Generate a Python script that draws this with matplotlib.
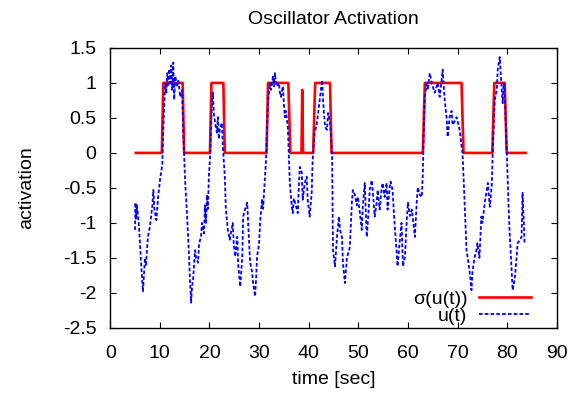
import numpy as np
import matplotlib.pyplot as plt
from matplotlib.ticker import FixedLocator, FuncFormatter

# gnuplot-like look
plt.rcParams['font.family'] = ['Liberation Sans', 'DejaVu Sans']
plt.rcParams['axes.unicode_minus'] = False

# u(t) (time in sec, activation)
u_time = [5.0, 5.1, 5.2, 5.4, 5.8, 6.2, 6.6, 7.0, 7.2, 7.6, 8.0, 8.5, 8.7, 8.9, 9.3, 9.7,
          10.1, 10.5, 10.7, 10.9, 11.1, 11.3, 11.5, 11.7, 11.9, 12.1, 12.3, 12.5, 12.7, 12.9,
          13.1, 13.5, 13.7, 14.1, 14.5, 14.7, 15.1, 15.5, 15.9, 16.1, 16.3, 16.5, 16.7, 17.1,
          17.3, 17.7, 17.9, 18.3, 18.5, 18.9, 19.1, 19.3, 19.5, 19.7, 19.9, 20.1, 20.3, 20.5,
          20.7, 20.9, 21.1, 21.5, 21.7, 21.9, 22.1, 22.5, 22.7, 23.1, 23.3, 23.7, 24.1, 24.3,
          24.7, 24.9, 25.2, 25.6, 25.8, 26.2, 26.6, 26.8, 27.2, 27.6, 27.8, 28.2, 28.6, 28.8,
          29.2, 29.4, 29.6, 30.0, 30.2, 30.6, 30.8, 31.2, 31.4, 31.6, 31.8, 32.2, 32.4, 32.8,
          33.0, 33.2, 33.4, 33.6, 34.0, 34.2, 34.4, 34.8, 35.0, 35.2, 35.4, 35.8, 36.2, 36.4,
          36.6, 36.8, 37.0, 37.2, 37.6, 37.8, 38.0, 38.2, 38.6, 38.8, 39.2, 39.6, 39.8, 40.2,
          40.6, 40.8, 41.2, 41.6, 41.8, 42.3, 42.7, 42.9, 43.3, 43.7, 43.9, 44.3, 44.7, 44.9,
          45.3, 45.7, 46.1, 46.3, 46.7, 46.9, 47.3, 47.7, 48.1, 48.3, 48.7, 48.9, 49.3, 49.7,
          49.9, 50.3, 50.7, 50.9, 51.3, 51.7, 52.1, 52.3, 52.7, 52.9, 53.3, 53.7, 53.9, 54.3,
          54.7, 54.9, 55.3, 55.7, 55.9, 56.3, 56.5, 56.9, 57.3, 57.7, 57.9, 58.3, 58.7, 59.0,
          59.4, 59.8, 60.0, 60.4, 60.8, 61.4, 61.8, 62.0, 62.4, 62.8, 63.0, 63.2, 63.4, 63.8,
          64.0, 64.4, 64.8, 65.0, 65.4, 66.0, 66.4, 66.8, 67.0, 67.4, 67.8, 68.0, 68.4, 68.8,
          69.0, 69.4, 69.8, 70.2, 70.4, 70.8, 71.0, 71.4, 71.8, 72.2, 72.6, 72.8, 73.0, 73.4,
          73.8, 74.0, 74.4, 74.8, 75.0, 75.5, 75.9, 76.1, 76.5, 76.9, 77.1, 77.5, 77.9, 78.1,
          78.5, 78.9, 79.1, 79.3, 79.5, 79.9, 80.3, 80.5, 80.9, 81.1, 81.5, 81.9, 82.1, 82.5,
          82.9, 83.1, 83.3, 83.5]
u_vals = [-1.10, -0.71, -0.95, -0.75, -1.05, -1.55, -1.98, -1.50, -1.60, -1.20, -1.05, -0.75, -0.53, -0.80, -0.96, -0.60,
          -0.35, -0.17, 0.33, 0.70, 1.00, 0.85, 1.14, 0.95, 1.20, 1.00, 1.25, 0.90, 1.29, 0.76,
          1.10, 0.95, 1.05, 0.80, 0.90, 0.33, -0.40, -0.91, -1.50, -1.86, -2.14, -1.90, -1.81, -1.39,
          -1.50, -1.57, -1.30, -1.20, -1.00, -1.15, -0.75, -1.00, -0.60, -0.80, -0.30, -0.10, 0.30, 0.71,
          0.86, 0.55, 0.45, 0.29, 0.51, 0.20, 0.35, 0.43, 0.09, -0.34, -0.80, -1.10, -1.24, -1.15,
          -1.00, -1.30, -1.48, -1.20, -1.60, -1.91, -1.50, -0.91, -0.80, -0.71, -1.00, -1.57, -1.70, -1.86,
          -2.05, -1.80, -1.48, -1.30, -1.00, -0.67, -0.80, -0.34, -0.10, 0.30, 0.71, 1.00, 0.90, 1.09,
          0.95, 1.14, 1.00, 0.95, 1.00, 0.86, 0.80, 0.95, 0.70, 0.51, 0.60, 0.37, -0.43, -0.60,
          -0.77, -0.86, -0.65, -0.70, -0.80, -0.86, -0.50, -0.20, -0.28, -0.67, -0.43, -0.34, -0.67, -0.91,
          -0.57, -0.10, 0.29, 0.40, 0.51, 0.80, 1.04, 0.75, 0.37, 0.33, 0.57, 0.45, 0.04, -1.39,
          -1.62, -1.20, -0.91, -1.10, -1.20, -1.57, -1.86, -1.50, -1.40, -1.34, -0.71, -0.53, -0.60, -0.75,
          -0.63, -0.85, -1.10, -0.77, -0.43, -1.20, -0.80, -0.53, -0.39, -0.53, -0.91, -0.71, -0.53, -0.81,
          -0.50, -0.43, -0.63, -0.43, -0.81, -0.50, -0.41, -0.53, -1.00, -1.39, -1.62, -1.30, -1.00, -1.62,
          -1.48, -0.91, -0.71, -0.90, -0.81, -1.20, -0.67, -0.49, -0.60, -0.63, -0.29, 0.30, 0.80, 1.00,
          0.90, 1.14, 1.00, 0.95, 0.86, 1.00, 0.80, 1.05, 1.19, 0.76, 0.50, 0.23, 0.51, 0.60,
          0.40, 0.45, 0.51, 0.40, 0.33, 0.10, 0.00, -0.67, -1.39, -1.57, -1.80, -1.96, -1.71, -1.50,
          -1.39, -1.29, -1.50, -0.91, -1.00, -0.70, -0.53, -0.43, -0.77, -0.45, 0.04, 0.76, 0.90, 1.19,
          1.37, 0.90, 0.71, 1.00, 0.90, 0.04, -0.80, -1.14, -1.70, -1.96, -1.81, -1.50, -1.29, -1.25,
          -1.20, -0.57, -0.90, -1.29]

# sigma(u(t))
sig_time = [5.15, 10.4, 10.7, 14.6, 14.9, 20.1, 20.4, 22.8, 23.1, 31.5, 31.8, 35.9, 36.3,
            38.55, 38.7, 38.85, 40.9, 41.3, 44.3, 44.6, 63.0, 63.4, 70.8, 71.2, 77.0, 77.4,
            79.5, 79.9, 83.7]
sig_vals = [0, 0, 1, 1, 0, 0, 1, 1, 0, 0, 1, 1, 0,
            0, 0.9, 0, 0, 1, 1, 0, 0, 1, 1, 0, 0, 1,
            1, 0, 0]

x_ticks = list(range(0, 100, 10))
y_ticks = [1.5, 1, 0.5, 0, -0.5, -1, -1.5, -2, -2.5]

fig = plt.figure(figsize=(5.8, 3.96), dpi=100)
ax = fig.add_axes([0.19, 0.172, 0.77, 0.707])

ax.plot(sig_time, sig_vals, color='#ff0000', lw=1.9, label='σ(u(t))')
ax.plot(u_time, u_vals, color='#0000ff', lw=1.3, linestyle=(0, (2, 1.2)), label='u(t)')

ax.set_xlim(0, 90)
ax.set_ylim(-2.5, 1.5)
ax.xaxis.set_major_locator(FixedLocator(x_ticks))
ax.yaxis.set_major_locator(FixedLocator(y_ticks))
ax.yaxis.set_major_formatter(FuncFormatter(lambda v, p: f"{v:g}"))
ax.tick_params(direction='in', top=True, right=True, length=4, width=0.8,
               labelsize=14)
ax.tick_params(axis='x', pad=12)
ax.tick_params(axis='y', pad=10)
for s in ax.spines.values():
    s.set_linewidth(1.0)

ax.set_title('Oscillator Activation', fontsize=14, pad=17)
ax.set_xlabel('time [sec]', fontsize=14, labelpad=7)
ax.set_ylabel('activation', fontsize=14, labelpad=20)

ax.legend(loc='lower right', frameon=False, markerfirst=False, fontsize=14,
          handlelength=2.7, handletextpad=0.6, labelspacing=0.0,
          borderaxespad=0.1, bbox_to_anchor=(0.965, -0.025))

fig.savefig('out.png', dpi=100)
